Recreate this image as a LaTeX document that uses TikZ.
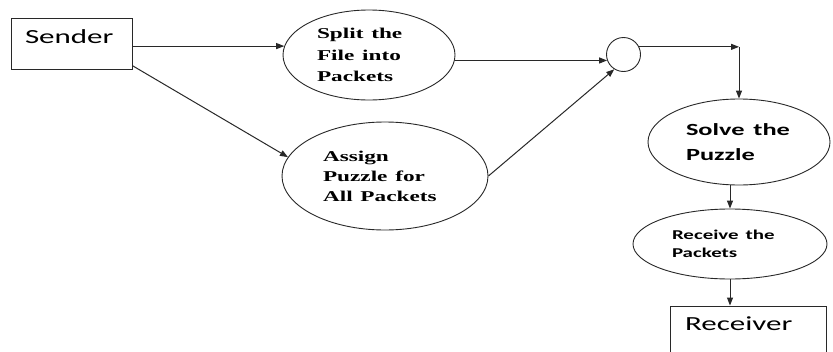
\documentclass[tikz,border=0pt]{standalone}
\usepackage{fontspec}
\setmainfont{Liberation Serif}
\newfontfamily\calibfont{Carlito}
\usepackage{graphicx}
\usetikzlibrary{shapes.geometric,arrows.meta}
\newcommand\hst[1]{\scalebox{1.55}[1]{#1}}
\definecolor{linec}{RGB}{40,40,40}
\begin{document}
\begin{tikzpicture}[x=1pt,y=-1pt,
  box/.style={draw=linec, line width=1pt, rectangle, inner ysep=0pt, align=left,
    font=\calibfont\fontsize{20}{24}\selectfont},
  oval/.style={draw=linec, line width=0.9pt, ellipse, inner sep=0pt, align=left},
  hubnode/.style={draw=linec, line width=0.9pt, circle, inner sep=0pt, minimum size=34pt},
  arr/.style={draw=linec, line width=1pt, -{Triangle[length=8pt,width=6pt]}},
  serifb/.style={font=\bfseries\fontsize{15}{#1}\selectfont},
  calb/.style 2 args={font=\calibfont\bfseries\fontsize{#1}{#2}\selectfont}
]
\useasboundingbox (0,0) rectangle (833,351);
\clip (0,0) rectangle (833,351);
\fill[white] (0,0) rectangle (833,351);

\node[box, minimum width=121pt, text height=25pt, text depth=26pt, text width=93pt, inner xsep=14pt] (sender) at (71.5,43.5) {\hst{Sender}};
\node[box, minimum width=156pt, text height=24pt, text depth=26pt, text width=126pt, inner xsep=15pt] (receiver) at (748,331) {\hst{Receiver}};

\node[oval, minimum width=172pt, minimum height=90pt, text width=104pt, serifb=21.5] (split) at (369,55)
  {\hst{Split the}\\\hst{File into}\\\hst{Packets}};
\node[oval, minimum width=206pt, minimum height=108pt, text width=124pt, serifb=20] (assign) at (385,176)
  {\hst{Assign}\\\hst{Puzzle for}\\\hst{All Packets}};
\node[hubnode] (hub) at (623.5,54.5) {};
\node[oval, minimum width=182pt, minimum height=86pt, text width=106pt, calb={17}{25}] (solve) at (739,142)
  {\hst{Solve the}\\\hst{Puzzle}};
\node[oval, minimum width=194pt, minimum height=70pt, text width=116pt, calb={13.5}{18}] (receive) at (730,244)
  {\hst{Receive the}\\\hst{Packets}};

\coordinate (turn) at (solve.north |- hub.26);

\draw[arr] (sender.east |- split.174) -- (split.174);
\draw[arr] (sender.-20) -- (assign.169);
\draw[arr] (split.east |- hub.200) -- (hub.200);
\draw[arr] (assign.east) -- (hub.238);
\draw[arr] (hub.26) -- (turn);
\draw[arr] (turn) -- (solve.north);
\draw[arr] (solve.south -| receive.north) -- (receive.north);
\draw[arr] (receive.south) -- (receive.south |- receiver.north);
\end{tikzpicture}
\end{document}
